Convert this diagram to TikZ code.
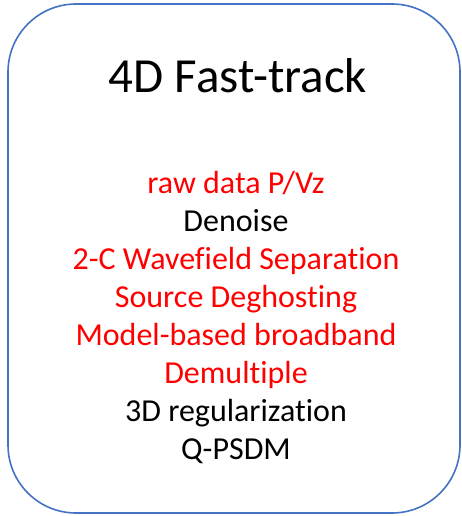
\documentclass[tikz,border=0pt]{standalone}
\usepackage{fontspec}
\setmainfont[Ligatures=NoCommon]{Carlito}
\definecolor{frameblue}{HTML}{4472C4}
\definecolor{stepred}{HTML}{FF0000}
\begin{document}
\begin{tikzpicture}[x=1pt,y=-1pt,
  frame/.style={draw=frameblue, line width=1.6pt, rounded corners=68pt},
  titletext/.style={anchor=base, inner sep=0pt, font=\fontsize{49}{58}\selectfont},
  steptext/.style={anchor=base, inner sep=0pt, font=\fontsize{32}{38}\selectfont},
  hot/.style={text=stepred},
  plain/.style={text=black}]
\useasboundingbox (0,0) rectangle (462,516);
\draw[frame] (8,4) rectangle (460,513);
\node[titletext] (title) at (238,93) {4D Fast-track};
\node[steptext,hot]   (s1) at (236,193) {raw data P/Vz};
\node[steptext,plain] (s2) at (236,231) {Denoise};
\node[steptext,hot]   (s3) at (236,269) {2-C Wavefield Separation};
\node[steptext,hot]   (s4) at (236,307) {Source Deghosting};
\node[steptext,hot]   (s5) at (236,345) {Model-based broadband};
\node[steptext,hot]   (s6) at (236,383) {Demultiple};
\node[steptext,plain] (s7) at (236,421) {3D regularization};
\node[steptext,plain] (s8) at (236,459) {Q-PSDM};
\end{tikzpicture}
\end{document}
